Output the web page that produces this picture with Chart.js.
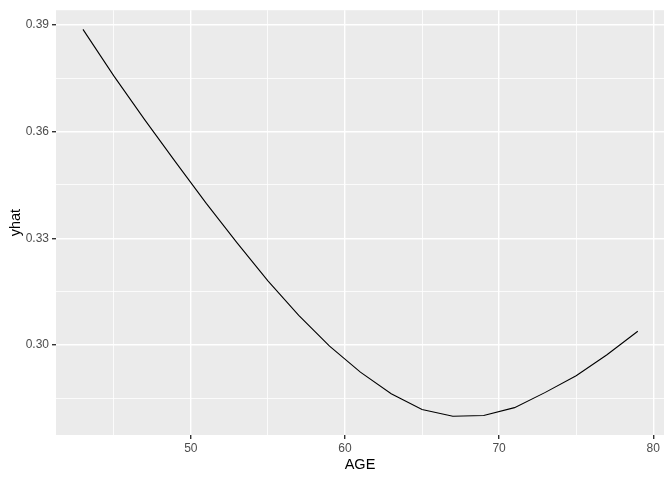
<!DOCTYPE html>
<html>
<head>
<meta charset="utf-8">
<script src="https://cdn.jsdelivr.net/npm/chart.js@4/dist/chart.umd.min.js"></script>
<style>
  html, body { margin: 0; padding: 0; background: #ffffff; }
  #wrap { width: 672px; height: 480px; }
</style>
</head>
<body>
<div id="wrap"><canvas id="lineChart" width="672" height="480"></canvas></div>
<script>
// fitted curve
var age = [43, 45, 47, 49, 51, 53, 55, 57, 59, 61, 63, 65, 67, 69, 71, 73, 75, 77, 79];
var yhat = [0.3888, 0.3757, 0.3634, 0.3515, 0.3398, 0.3287, 0.3180, 0.3083, 0.2996, 0.2923,
            0.2862, 0.2818, 0.2799, 0.2801, 0.2823, 0.2866, 0.2913, 0.2972, 0.3038];

var xMajor = [50, 60, 70, 80];
var xMinor = [45, 55, 65, 75];
var yMajor = [0.30, 0.33, 0.36, 0.39];
var yMinor = [0.285, 0.315, 0.345, 0.375];

var points = [];
for (var a = 0; a < age.length; a++) {
    points.push({x: age[a], y: yhat[a]});
}

function buildTicks(major, minor) {
    var all = [];
    for (var i = 0; i < major.length; i++) all.push({value: major[i], major: true});
    for (var j = 0; j < minor.length; j++) all.push({value: minor[j], major: false});
    all.sort(function(p, q) { return p.value - q.value; });
    return all;
}

function isMajor(ctx) {
    return ctx.tick && ctx.tick.major;
}

var panelBg = {
    id: 'panelBg',
    beforeDraw: function(chart) {
        var c = chart.ctx, area = chart.chartArea;
        c.save();
        c.fillStyle = '#ffffff';
        c.fillRect(0, 0, chart.width, chart.height);
        c.fillStyle = '#EBEBEB';
        c.fillRect(area.left, area.top, area.right - area.left, area.bottom - area.top);
        c.restore();
    }
};

var tickFont = {family: 'Liberation Sans, Arial, sans-serif', size: 12};
var titleFont = {family: 'Liberation Sans, Arial, sans-serif', size: 14.5};

new Chart(document.getElementById('lineChart').getContext('2d'), {
    type: 'line',
    data: {
        datasets: [{
            label: 'yhat',
            data: points,
            borderColor: '#000000',
            borderWidth: 1.1,
            fill: false,
            pointRadius: 0,
            tension: 0
        }]
    },
    options: {
        responsive: false,
        animation: false,
        devicePixelRatio: 1,
        layout: { padding: {top: 7, right: 8, left: 0, bottom: 0} },
        plugins: { legend: {display: false}, tooltip: {enabled: false} },
        scales: {
            x: {
                type: 'linear',
                min: 41.25,
                max: 80.7,
                afterBuildTicks: function(s) { s.ticks = buildTicks(xMajor, xMinor); },
                afterFit: function(s) { s.height = 45; },
                border: {display: false},
                grid: {
                    color: '#ffffff',
                    lineWidth: function(ctx) { return isMajor(ctx) ? 1.4 : 0.8; },
                    tickColor: function(ctx) { return isMajor(ctx) ? '#333333' : 'rgba(0,0,0,0)'; },
                    tickLength: 4
                },
                ticks: {
                    autoSkip: false,
                    maxRotation: 0,
                    padding: 2,
                    color: '#4D4D4D',
                    font: tickFont,
                    callback: function(v) { return xMajor.indexOf(v) >= 0 ? String(v) : ''; }
                },
                title: {
                    display: true,
                    text: 'AGE',
                    color: '#000000',
                    font: titleFont,
                    padding: {top: 0, bottom: 6}
                }
            },
            y: {
                type: 'linear',
                min: 0.2746,
                max: 0.3942,
                afterBuildTicks: function(s) { s.ticks = buildTicks(yMajor, yMinor); },
                afterFit: function(s) { s.width = 56; },
                border: {display: false},
                grid: {
                    color: '#ffffff',
                    lineWidth: function(ctx) { return isMajor(ctx) ? 1.4 : 0.8; },
                    tickColor: function(ctx) { return isMajor(ctx) ? '#333333' : 'rgba(0,0,0,0)'; },
                    tickLength: 4
                },
                ticks: {
                    autoSkip: false,
                    padding: 3,
                    color: '#4D4D4D',
                    font: tickFont,
                    callback: function(v) {
                        for (var i = 0; i < yMajor.length; i++) {
                            if (Math.abs(yMajor[i] - v) < 1e-9) return v.toFixed(2);
                        }
                        return '';
                    }
                },
                title: {
                    display: true,
                    text: 'yhat',
                    color: '#000000',
                    font: titleFont,
                    padding: {top: 7, bottom: 0}
                }
            }
        }
    },
    plugins: [panelBg]
});
</script>
</body>
</html>
